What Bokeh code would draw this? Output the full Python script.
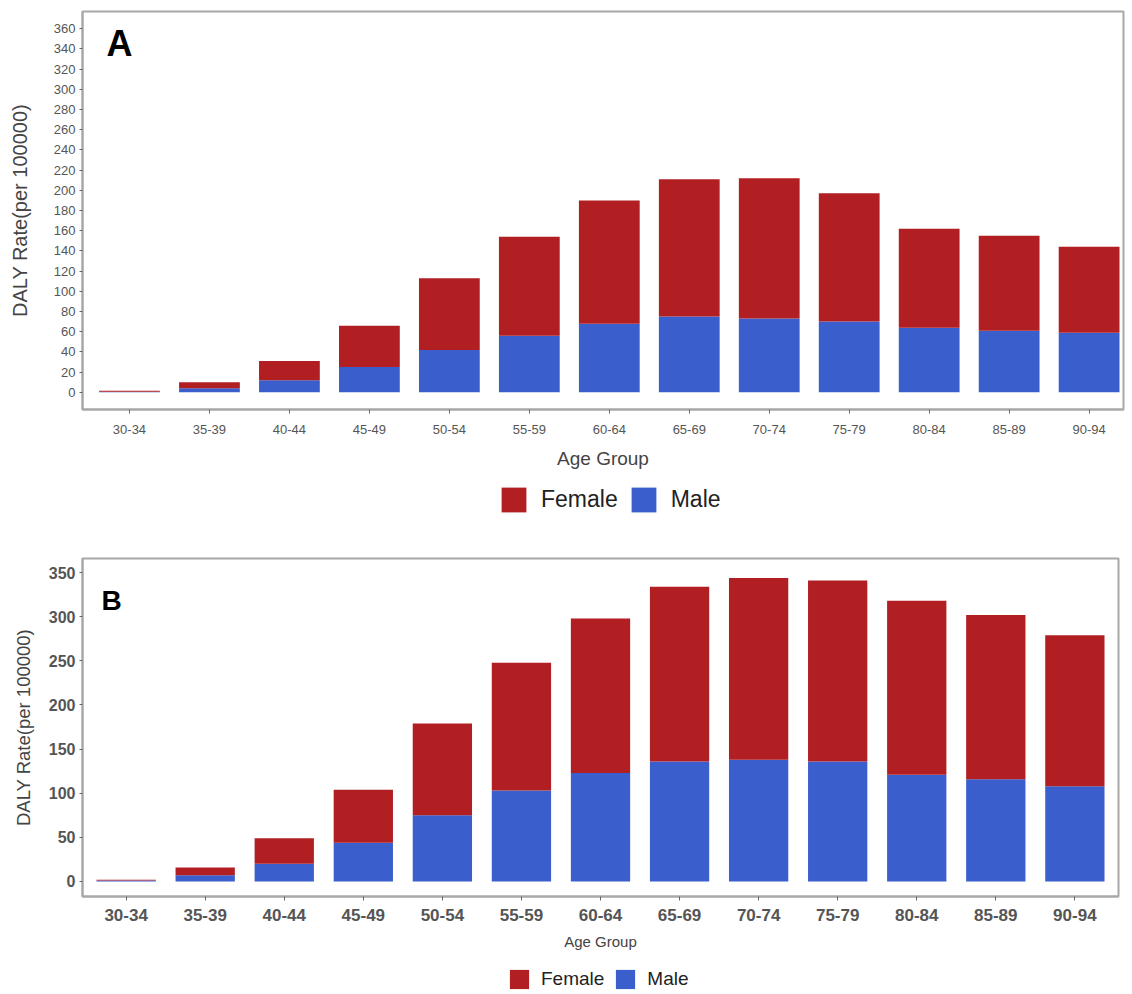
from bokeh.plotting import figure
from bokeh.models import ColumnDataSource, FixedTicker, Legend, LegendItem, Label, Range1d
from bokeh.layouts import column
from bokeh.embed import file_html
from bokeh.resources import INLINE

age_groups = ["30-34", "35-39", "40-44", "45-49", "50-54", "55-59", "60-64",
              "65-69", "70-74", "75-79", "80-84", "85-89", "90-94"]

# Panel A
male_a = [0.5, 4, 12, 25, 42, 56, 68, 75, 73, 70, 64, 61, 59]
female_a = [1, 6, 19, 41, 71, 98, 122, 136, 139, 127, 98, 94, 85]
# Panel B
male_b = [1, 7, 20, 44, 75, 103, 123, 136, 138, 136, 121, 116, 108]
female_b = [1, 9, 29, 60, 104, 145, 175, 198, 206, 205, 197, 186, 171]

ticks_a = list(range(0, 361, 20))
ticks_b = list(range(0, 351, 50))
series_labels = ["Female", "Male"]

FEMALE = "#B11F22"
MALE = "#3A5ECC"
FONT = "Liberation Sans"


def make_panel(male, female, letter, yticks, yr, xr, fw, fh, borders, st):
    src = ColumnDataSource(dict(x=list(range(len(age_groups))), male=male, female=female))
    p = figure(frame_width=fw, frame_height=fh, output_backend="svg", toolbar_location=None,
               x_range=Range1d(*xr), y_range=Range1d(*yr),
               min_border_left=borders[0], min_border_right=borders[1],
               min_border_top=borders[2], min_border_bottom=borders[3])
    p.vbar_stack(["male", "female"], x="x", width=st["bw"], color=[MALE, FEMALE],
                 line_color=None, source=src)
    p.xgrid.visible = False
    p.ygrid.visible = False
    p.outline_line_color = "#A8A8A8"
    p.outline_line_width = 2
    p.background_fill_color = "white"

    p.xaxis.ticker = FixedTicker(ticks=list(range(len(age_groups))))
    p.xaxis.major_label_overrides = {i: g for i, g in enumerate(age_groups)}
    p.xaxis.minor_tick_line_color = None
    p.xaxis.axis_line_color = "#A8A8A8"
    p.xaxis.axis_line_width = 2
    p.xaxis.major_tick_line_color = "#666"
    p.xaxis.major_tick_in = 0
    p.xaxis.major_tick_out = 4
    p.xaxis.major_label_text_font = FONT
    p.xaxis.major_label_text_font_size = st["xtick"]
    p.xaxis.major_label_text_color = "#555555"
    p.xaxis.major_label_text_font_style = st["tickstyle"]
    p.xaxis.major_label_standoff = st["xstand"]
    p.xaxis.axis_label = "Age Group"
    p.xaxis.axis_label_text_font = FONT
    p.xaxis.axis_label_text_font_style = "normal"
    p.xaxis.axis_label_text_font_size = st["xlab"]
    p.xaxis.axis_label_text_color = "#444444"
    p.xaxis.axis_label_standoff = st["xlabstand"]

    p.yaxis.ticker = FixedTicker(ticks=yticks)
    p.yaxis.minor_tick_line_color = None
    p.yaxis.axis_line_color = "#A8A8A8"
    p.yaxis.axis_line_width = 2
    p.yaxis.major_tick_line_color = "#666"
    p.yaxis.major_tick_in = 0
    p.yaxis.major_tick_out = 3
    p.yaxis.major_label_text_font = FONT
    p.yaxis.major_label_text_font_size = st["ytick"]
    p.yaxis.major_label_text_color = "#555555"
    p.yaxis.major_label_text_font_style = st["tickstyle"]
    p.yaxis.major_label_standoff = 4
    p.yaxis.axis_label = "DALY Rate(per 100000)"
    p.yaxis.axis_label_text_font = FONT
    p.yaxis.axis_label_text_font_style = "normal"
    p.yaxis.axis_label_text_font_size = st["ylab"]
    p.yaxis.axis_label_text_color = "#444444"
    p.yaxis.axis_label_standoff = st["ylabstand"]

    p.add_layout(Label(x=st["lx"], y=st["ly"], text=letter, text_font=FONT,
                       text_font_style="bold", text_font_size=st["letter"],
                       text_color="black", text_baseline="top", text_align="left"))
    return p


def make_legend(height, loc, glyph, font_size, standoff, spacing):
    lp = figure(width=1132, height=height, output_backend="svg", toolbar_location=None,
                x_axis_type=None, y_axis_type=None, min_border=0,
                x_range=Range1d(0, 1), y_range=Range1d(0, 1))
    lp.outline_line_color = None
    lp.xgrid.visible = False
    lp.ygrid.visible = False
    # legend-only renderers: a zero-height bar, so nothing shows in the strip itself
    rf = lp.vbar(x=[0.5], top=[0], bottom=[0], width=0.1, fill_color=FEMALE, line_color=None)
    rm = lp.vbar(x=[0.5], top=[0], bottom=[0], width=0.1, fill_color=MALE, line_color=None)
    legend = Legend(items=[LegendItem(label=series_labels[0], renderers=[rf]),
                           LegendItem(label=series_labels[1], renderers=[rm])],
                    orientation="horizontal", location=loc,
                    glyph_width=glyph, glyph_height=glyph,
                    label_text_font=FONT, label_text_font_size=font_size,
                    label_text_color="#222222", label_standoff=standoff,
                    spacing=spacing, label_height=glyph,
                    border_line_color=None, background_fill_alpha=0,
                    padding=0, margin=0)
    lp.add_layout(legend)
    return lp


pa = make_panel(male_a, female_a, "A", ticks_a, (-17, 377), (-0.5875, 12.43), 1041, 398,
                (82, 5, 11, 66),
                dict(bw=0.76, xtick="13px", tickstyle="normal", xstand=11, xlab="19px",
                     xlabstand=11, ytick="13px", ylab="20px", ylabstand=20,
                     lx=-0.2875, ly=366, letter="36px"))
la = make_legend(55, (416, 15), 31, "23px", 12, 10)

pb = make_panel(male_b, female_b, "B", ticks_b, (-17, 366), (-0.552, 12.552), 1036, 338,
                (82, 14, 28, 60),
                dict(bw=0.75, xtick="17px", tickstyle="bold", xstand=8, xlab="15px",
                     xlabstand=9, ytick="16px", ylab="18.5px", ylabstand=12,
                     lx=-0.312, ly=336.5, letter="28px"))
lb = make_legend(37, (425, 2), 24, "19px", 10, 9)

layout = column(pa, la, pb, lb, spacing=0)
open("out.html", "w").write(file_html(layout, INLINE))
